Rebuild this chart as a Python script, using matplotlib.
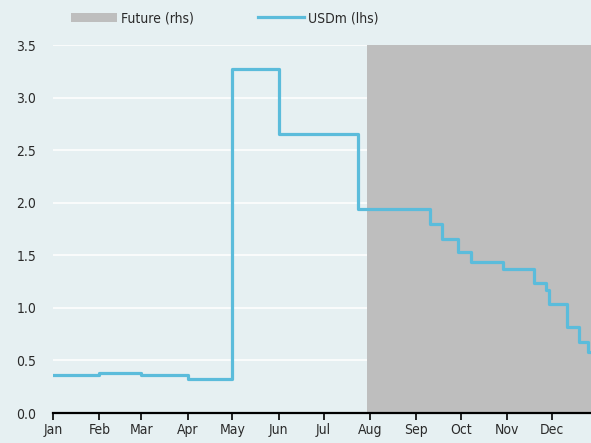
import matplotlib
matplotlib.use('Agg')
import matplotlib.pyplot as plt
from matplotlib.patches import Patch
from matplotlib.lines import Line2D
import pandas as pd

plt.rcParams['font.family'] = ['DejaVu Sans']
plt.rcParams['font.stretch'] = 'condensed'

# step dates and USDm level (lhs)
step_dates = ['2023-01-01', '2023-02-01', '2023-03-01', '2023-04-01', '2023-05-01',
              '2023-06-01', '2023-07-24', '2023-09-10', '2023-09-18', '2023-09-29',
              '2023-10-08', '2023-10-29', '2023-11-19', '2023-11-27', '2023-11-29',
              '2023-12-11', '2023-12-19', '2023-12-25', '2023-12-27']
usdm = [0.36, 0.38, 0.36, 0.32, 3.27,
        2.65, 1.94, 1.80, 1.66, 1.53,
        1.44, 1.37, 1.24, 1.17, 1.04,
        0.82, 0.68, 0.58, 0.58]
future_start = '2023-07-30'
x_end = '2023-12-27'
month_labels = ['Jan', 'Feb', 'Mar', 'Apr', 'May', 'Jun',
                'Jul', 'Aug', 'Sep', 'Oct', 'Nov', 'Dec']

bg = '#E6F0F2'
line_col = '#5BBCDB'
grey = '#BEBEBE'
txt = '#2a2a2a'
fs = 10

dates = pd.to_datetime(step_dates)

fig = plt.figure(figsize=(5.91, 4.43), dpi=100, facecolor=bg)
ax = fig.add_axes([0.0897, 0.0677, 1 - 0.0897, 0.8305])
ax.set_facecolor(bg)

ax.axvspan(pd.Timestamp(future_start), pd.Timestamp(x_end), color=grey, lw=0, zorder=2)
ax.step(dates, usdm, where='post', color=line_col, lw=2.3, zorder=3)

ax.set_xlim(pd.Timestamp('2023-01-01'), pd.Timestamp(x_end))
ax.set_ylim(0, 3.5)
ax.set_yticks([0, 0.5, 1.0, 1.5, 2.0, 2.5, 3.0, 3.5])
ax.set_yticklabels(['0.0', '0.5', '1.0', '1.5', '2.0', '2.5', '3.0', '3.5'])

months = pd.date_range('2023-01-01', periods=12, freq='MS')
ax.set_xticks(months)
ax.set_xticklabels(month_labels)

ax.grid(axis='y', color='white', lw=1.1, zorder=1)
ax.set_axisbelow(True)
for s in ['top', 'right', 'left']:
    ax.spines[s].set_visible(False)
ax.spines['bottom'].set_color('black')
ax.spines['bottom'].set_linewidth(1.6)
ax.spines['bottom'].set_zorder(4)
ax.tick_params(axis='y', length=0, pad=12, labelsize=fs, labelcolor=txt)
ax.tick_params(axis='x', direction='out', length=5, width=1.2, color='black',
               labelsize=fs, labelcolor=txt, pad=2.5)

handles = [Patch(facecolor=grey, edgecolor='none'),
           Line2D([0], [0], color=line_col, lw=2.3)]
fig.legend(handles, ['Future (rhs)', 'USDm (lhs)'], loc='center left',
           bbox_to_anchor=(71 / 591, 1 - 18 / 443), ncol=2, frameon=False, fontsize=fs,
           handlelength=3.3, handleheight=0.6, columnspacing=4.6, handletextpad=0.3,
           borderpad=0, borderaxespad=0, labelcolor=txt)

fig.savefig('out.png', dpi=100, facecolor=bg)
